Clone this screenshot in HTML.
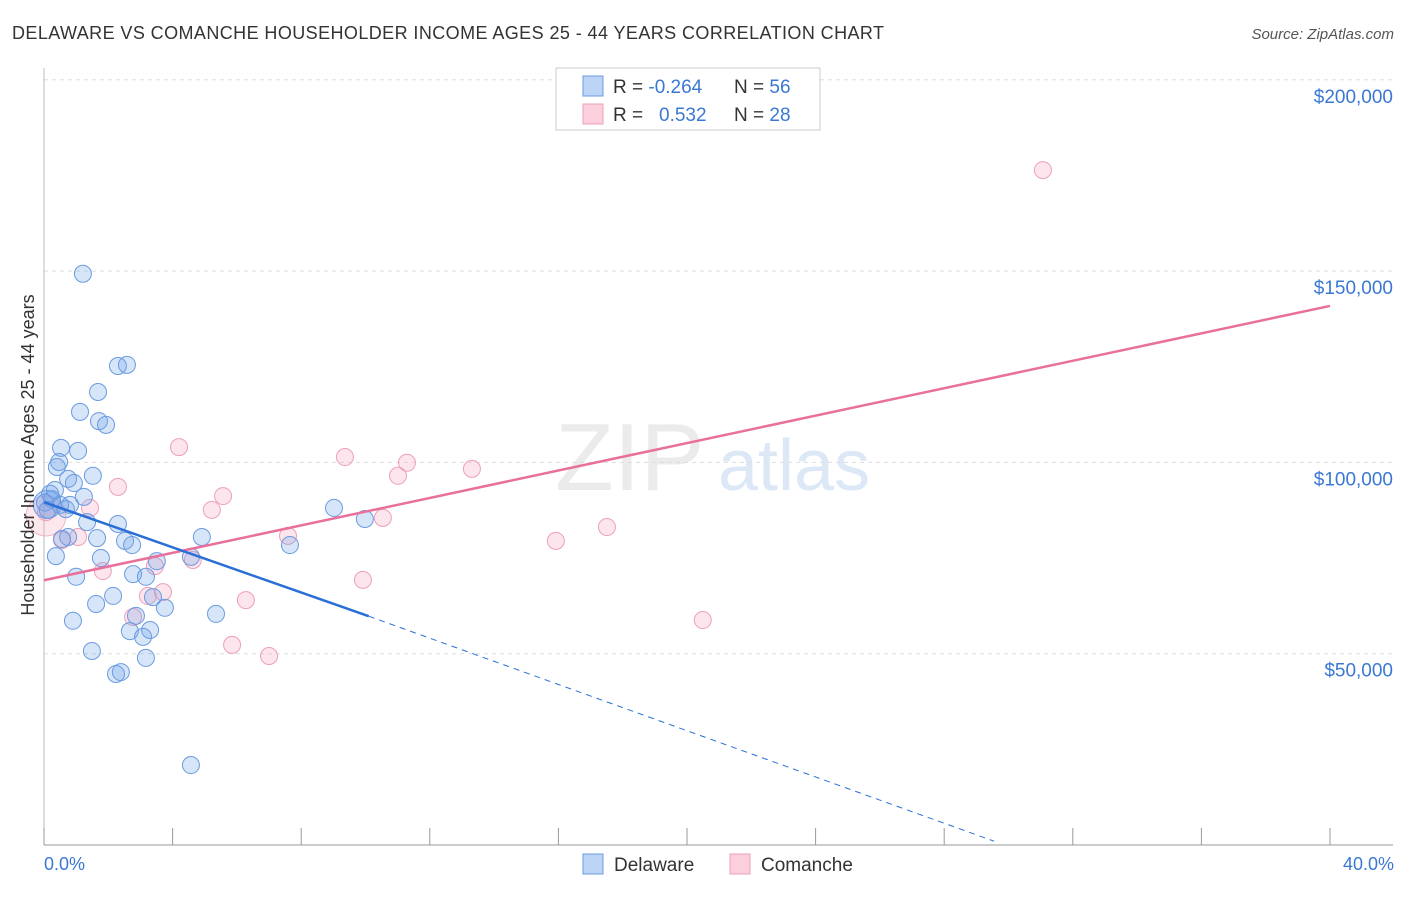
<!DOCTYPE html>
<html><head><meta charset="utf-8"><style>
body{margin:0;background:#fff;font-family:"Liberation Sans",sans-serif;}
svg text{font-family:"Liberation Sans",sans-serif;}
</style></head><body>
<svg id="chart" width="1406" height="892" viewBox="0 0 1406 892">
<text x="12" y="39" font-size="18" fill="#333" textLength="872">DELAWARE VS COMANCHE HOUSEHOLDER INCOME AGES 25 - 44 YEARS CORRELATION CHART</text>
<text x="1394" y="39" font-size="15" fill="#555" font-style="italic" text-anchor="end">Source: ZipAtlas.com</text>
<g><text x="555" y="490" font-size="96" fill="#ebebeb" font-family="Liberation Serif">ZIP</text><text x="718" y="490" font-size="72" fill="#dde8f7">atlas</text></g>
<g id="grid"></g><g id="axes"></g><g id="marks"></g>
<text transform="translate(34,455) rotate(-90)" font-size="18" fill="#333" text-anchor="middle">Householder Income Ages 25 - 44 years</text>
<text x="44" y="870" font-size="18" fill="#3a78d4">0.0%</text>
<text x="1394" y="870" font-size="18" fill="#3a78d4" text-anchor="end">40.0%</text>
<g>
<rect x="556" y="68" width="264" height="62" fill="#fff" stroke="#ccc"/>
<rect x="583" y="76" width="20" height="20" fill="#bcd4f5" stroke="#6a9be0"/>
<rect x="583" y="104" width="20" height="20" fill="#fbd0dc" stroke="#eea0b8"/>
<text x="613" y="93" font-size="19" fill="#333">R = <tspan fill="#3a78d4">-0.264</tspan></text>
<text x="734" y="93" font-size="19" fill="#333">N = <tspan fill="#3a78d4">56</tspan></text>
<text x="613" y="121" font-size="19" fill="#333">R = <tspan fill="#3a78d4" x="659">0.532</tspan></text>
<text x="734" y="121" font-size="19" fill="#333">N = <tspan fill="#3a78d4">28</tspan></text>
</g>
<g>
<rect x="583" y="854" width="20" height="20" fill="#bcd4f5" stroke="#6a9be0"/>
<text x="614" y="871" font-size="19" fill="#333">Delaware</text>
<rect x="730" y="854" width="20" height="20" fill="#fbd0dc" stroke="#eea0b8"/>
<text x="761" y="871" font-size="19" fill="#333">Comanche</text>
</g>
</svg>
<script>
const yTicks=[50000,100000,150000,200000];
const yTickLabels=["$50,000","$100,000","$150,000","$200,000"];
const xTicks=[0,4,8,12,16,20,24,28,32,36,40];
const delX=[1.21,2.30,2.58,1.68,1.12,1.71,1.93,0.53,1.06,0.47,0.40,1.52,0.75,0.93,1.24,0.19,0.25,0.50,0.81,0.68,1.34,2.30,0.56,0.75,1.65,2.52,2.74,4.91,7.65,9.02,9.98,0.37,1.77,3.51,4.57,1.00,2.77,3.17,2.15,3.39,1.62,3.76,5.35,0.90,2.86,2.67,3.30,3.08,1.49,3.17,2.24,2.39,4.57,0.03,0.12,0.34];
const delY=[149.3,125.2,125.5,118.4,113.2,110.8,109.8,103.8,103.0,100.1,98.8,96.5,95.7,94.6,91.0,91.8,90.4,88.9,88.9,87.8,84.4,83.9,80.0,80.5,80.2,79.5,78.4,80.5,78.4,88.1,85.2,75.5,75.0,74.2,75.3,70.1,70.8,70.1,65.1,64.8,63.0,62.0,60.4,58.6,59.9,55.9,56.2,54.4,50.7,48.9,44.7,45.2,20.9,89.5,87.6,92.8];
const comX=[31.07,4.20,9.36,11.29,11.01,13.31,2.30,5.57,5.22,1.43,10.54,17.51,15.92,7.59,1.06,0.06,4.63,3.45,1.83,9.92,3.70,3.23,6.28,2.77,20.49,5.85,7.00,0.56];
const comY=[176.4,104.0,101.4,99.9,96.5,98.3,93.6,91.2,87.6,88.1,85.5,83.1,79.5,80.8,80.5,87.0,74.5,72.9,71.6,69.3,66.1,65.1,64.0,59.6,58.8,52.3,49.4,79.7];
const delTrend=[[0,89.6],[10.1,59.8]], delDash=[[10.1,59.8],[29.55,1]];
const comTrend=[[0,69.2],[40,140.9]];
const NS="http://www.w3.org/2000/svg";
const X=v=>44+v/40*1286, Y=k=>845-k/50*191.3;
function el(t,a,p){const e=document.createElementNS(NS,t);for(const k in a)e.setAttribute(k,a[k]);document.getElementById(p).appendChild(e);return e;}
yTicks.forEach((t,i)=>{
 const l=el('line',{x1:44,x2:1393,y1:Y(t/1000),y2:Y(t/1000),stroke:'#ddd','stroke-dasharray':'4,4'},'grid');
 
 
 const tx=el('text',{x:1393,y:Y(t/1000)+23,'font-size':19,fill:'#3a78d4','text-anchor':'end'},'grid');
 tx.textContent=yTickLabels[i];
 
 
});
const ax=el('line',{x1:44,x2:1393,y1:845,y2:845,stroke:'#999'},'axes');


const ay=el('line',{x1:44,x2:44,y1:68,y2:845,stroke:'#bbb'},'axes');


xTicks.forEach(t=>{const l=el('line',{x1:X(t),x2:X(t),y1:828,y2:845,stroke:'#999'},'axes');
 
 });
function pts(xs,ys,fill,stroke,name){xs.forEach((x,i)=>{
 const c=el('circle',{cx:X(x),cy:Y(ys[i]),r:8.5,fill:fill,stroke:stroke,'stroke-width':1},'marks');
 
 });}
const bigC=el('circle',{cx:X(0.06),cy:Y(86),r:20,fill:'rgba(245,160,185,0.25)',stroke:'#f2b5c8'},'marks');


pts(comX,comY,'rgba(245,160,185,0.28)','#eea0b8','comanche-point');
const bigD=el('circle',{cx:X(0.1),cy:Y(89),r:14,fill:'rgba(110,160,235,0.3)',stroke:'#6a9be0'},'marks');


pts(delX,delY,'rgba(110,160,235,0.28)','#6a9be0','delaware-point');
function line(p,stroke,w,dash,name){const l=el('line',{x1:X(p[0][0]),y1:Y(p[0][1]),x2:X(p[1][0]),y2:Y(p[1][1]),stroke:stroke,'stroke-width':w},'marks');
 if(dash)l.setAttribute('stroke-dasharray',dash);
 
 }
line(comTrend,'#e8709a',2.5,null,'comanche-trendline');
line(delTrend,'#2a6fd6',2.5,null,'delaware-trendline');
line(delDash,'#2a6fd6',1,'6,5','delaware-trendline-extension');
</script>
</body></html>
